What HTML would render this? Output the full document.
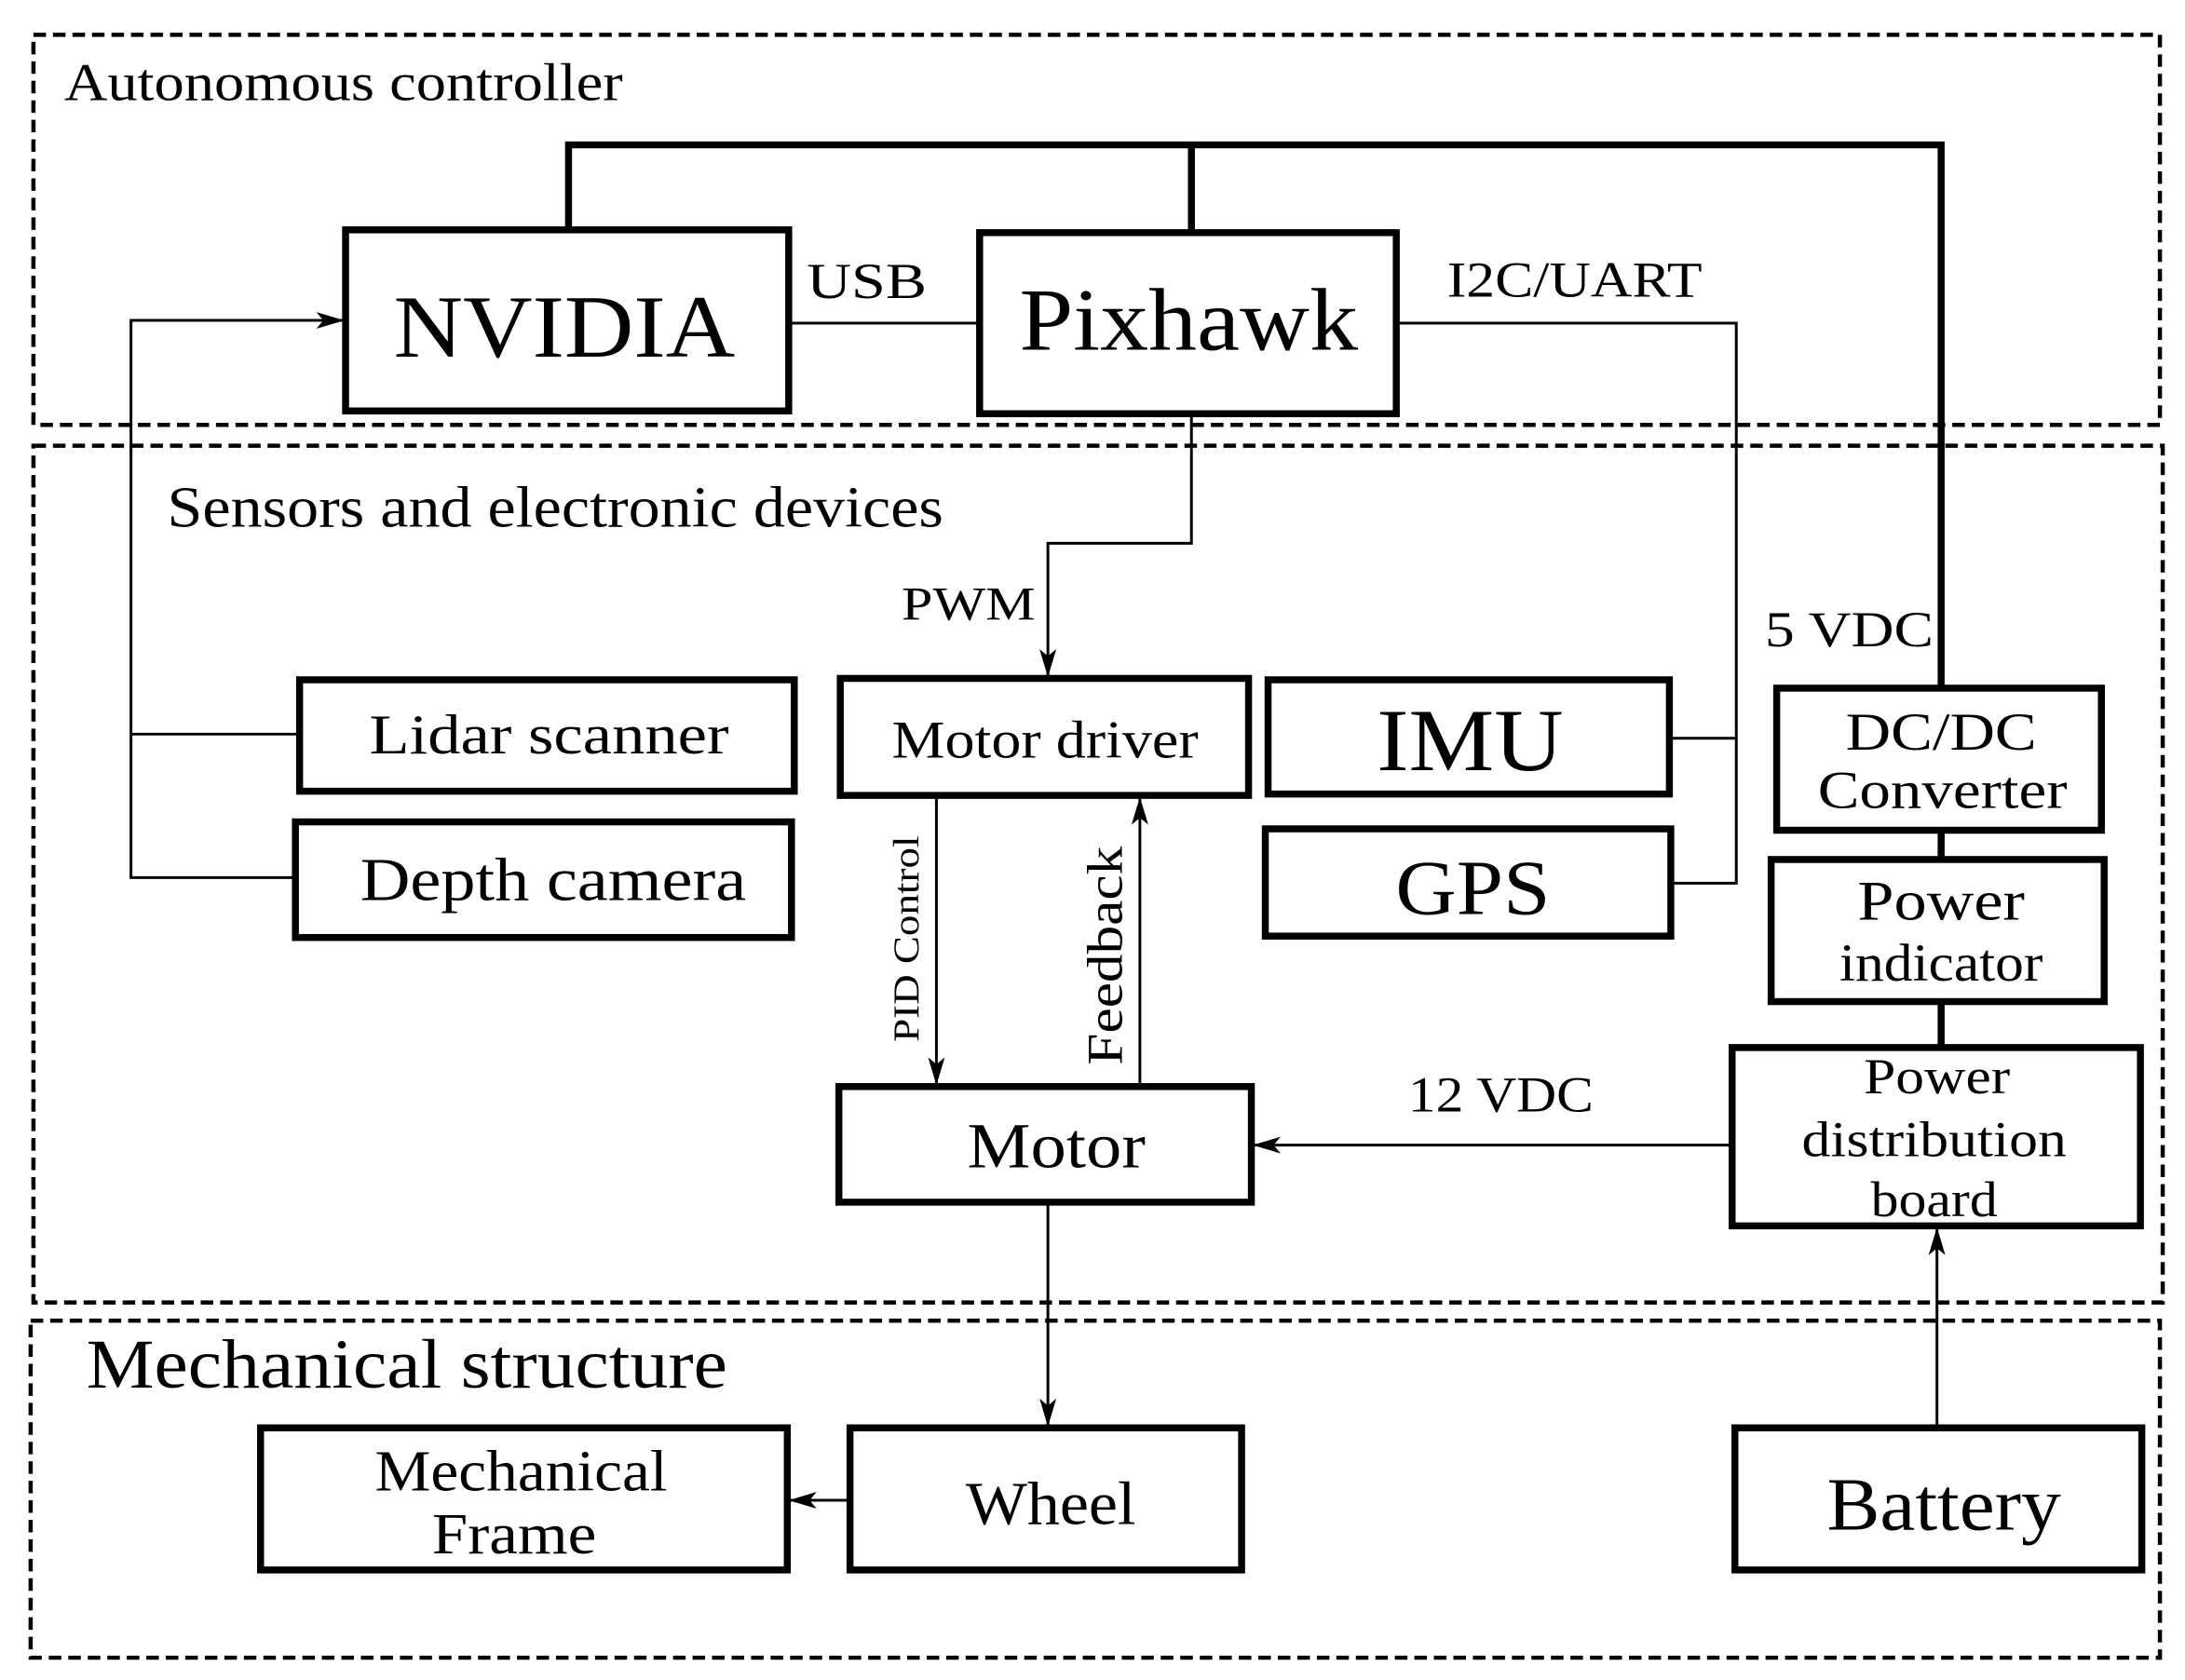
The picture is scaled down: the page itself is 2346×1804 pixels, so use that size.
<!DOCTYPE html>
<html><head><meta charset="utf-8"><style>html,body{margin:0;padding:0;background:#fff}svg{display:block}</style></head>
<body>
<svg width="2346" height="1804" viewBox="0 0 1568 1206" preserveAspectRatio="none" xmlns="http://www.w3.org/2000/svg" font-family="'Liberation Serif', serif">
<defs><marker id="b" markerWidth="20" markerHeight="12" refX="19" refY="6" orient="auto" markerUnits="userSpaceOnUse"><path d="M0,0 L20,6 L0,12 L5,6 Z" fill="#000"/></marker></defs>
<g fill="none" stroke="#000" stroke-width="3" stroke-dasharray="9,5">
<rect x="24" y="25" width="1526" height="280"/>
<rect x="24" y="320" width="1528" height="615"/>
<rect x="22" y="948" width="1528" height="242"/>
</g>
<g fill="none" stroke="#000" stroke-width="5">
<rect x="248" y="165" width="318" height="130"/>
<rect x="703" y="167" width="299" height="130"/>
<rect x="215" y="488" width="355" height="80"/>
<rect x="212" y="590" width="356" height="83"/>
<rect x="603" y="487" width="293" height="84"/>
<rect x="910" y="488" width="288" height="82"/>
<rect x="908" y="595" width="291" height="77"/>
<rect x="1275" y="494" width="233" height="102"/>
<rect x="1271" y="617" width="239" height="102"/>
<rect x="1243" y="752" width="293" height="128"/>
<rect x="602" y="780" width="296" height="83"/>
<rect x="610" y="1025" width="281" height="102"/>
<rect x="187" y="1025" width="378" height="102"/>
<rect x="1245" y="1025" width="292" height="102"/>
<polyline points="408,165 408,104 1393,104 1393,494"/>
<line x1="855" y1="104" x2="855" y2="167"/>
<line x1="1393" y1="596" x2="1393" y2="617"/>
<line x1="1393" y1="719" x2="1393" y2="752"/>
</g>
<g fill="none" stroke="#000" stroke-width="2">
<line x1="566" y1="232" x2="703" y2="232"/>
<polyline points="1002,232 1246,232 1246,634 1199,634"/>
<line x1="1198" y1="530" x2="1246" y2="530"/>
<polyline points="212,630 94,630 94,230 246,230" marker-end="url(#b)"/>
<line x1="94" y1="527" x2="215" y2="527"/>
<polyline points="855,297 855,390 752,390 752,485" marker-end="url(#b)"/>
<line x1="672" y1="571" x2="672" y2="778" marker-end="url(#b)"/>
<line x1="818" y1="780" x2="818" y2="573" marker-end="url(#b)"/>
<line x1="1243" y1="822" x2="900" y2="822" marker-end="url(#b)"/>
<line x1="752" y1="863" x2="752" y2="1023" marker-end="url(#b)"/>
<line x1="610" y1="1077" x2="567" y2="1077" marker-end="url(#b)"/>
<line x1="1390" y1="1025" x2="1390" y2="882" marker-end="url(#b)"/>
</g>
<g fill="#000" text-anchor="middle" lengthAdjust="spacingAndGlyphs">
<text x="405" y="256" font-size="64" textLength="245" lengthAdjust="spacingAndGlyphs">NVIDIA</text>
<text x="853" y="251" font-size="64" textLength="243" lengthAdjust="spacingAndGlyphs">Pixhawk</text>
<text x="622" y="214" font-size="36" textLength="86" lengthAdjust="spacingAndGlyphs">USB</text>
<text x="1130" y="213" font-size="36" textLength="183" lengthAdjust="spacingAndGlyphs">I2C/UART</text>
<text x="695" y="445" font-size="34" textLength="96" lengthAdjust="spacingAndGlyphs">PWM</text>
<text x="394" y="541" font-size="40" textLength="258" lengthAdjust="spacingAndGlyphs">Lidar scanner</text>
<text x="397" y="646" font-size="44" textLength="277" lengthAdjust="spacingAndGlyphs">Depth camera</text>
<text x="750" y="544" font-size="38" textLength="220" lengthAdjust="spacingAndGlyphs">Motor driver</text>
<text x="1055" y="553" font-size="64" textLength="134" lengthAdjust="spacingAndGlyphs">IMU</text>
<text x="1057" y="656" font-size="56" textLength="111" lengthAdjust="spacingAndGlyphs">GPS</text>
<text x="1327" y="464" font-size="36" textLength="121" lengthAdjust="spacingAndGlyphs">5 VDC</text>
<text x="1393" y="538" font-size="38" textLength="137" lengthAdjust="spacingAndGlyphs">DC/DC</text>
<text x="1394" y="580" font-size="38" textLength="179" lengthAdjust="spacingAndGlyphs">Converter</text>
<text x="1393" y="660" font-size="40" textLength="120" lengthAdjust="spacingAndGlyphs">Power</text>
<text x="1393" y="704" font-size="38" textLength="146" lengthAdjust="spacingAndGlyphs">indicator</text>
<text x="1390" y="785" font-size="36" textLength="105" lengthAdjust="spacingAndGlyphs">Power</text>
<text x="1388" y="830" font-size="36" textLength="190" lengthAdjust="spacingAndGlyphs">distribution</text>
<text x="1388" y="873" font-size="36" textLength="91" lengthAdjust="spacingAndGlyphs">board</text>
<text x="1077" y="798" font-size="36" textLength="133" lengthAdjust="spacingAndGlyphs">12 VDC</text>
<text x="758" y="838" font-size="46" textLength="128" lengthAdjust="spacingAndGlyphs">Motor</text>
<text x="754" y="1094" font-size="44" textLength="122" lengthAdjust="spacingAndGlyphs">Wheel</text>
<text x="374" y="1070" font-size="42" textLength="210" lengthAdjust="spacingAndGlyphs">Mechanical</text>
<text x="369" y="1115" font-size="42" textLength="118" lengthAdjust="spacingAndGlyphs">Frame</text>
<text x="1395" y="1098" font-size="54" textLength="168" lengthAdjust="spacingAndGlyphs">Battery</text>
<text transform="translate(659,674) rotate(-90)" font-size="26" textLength="148" lengthAdjust="spacingAndGlyphs">PID Control</text>
<text transform="translate(805,686) rotate(-90)" font-size="36" textLength="157" lengthAdjust="spacingAndGlyphs">Feedback</text>
</g>
<g fill="#000">
<text x="46" y="72" font-size="38" textLength="401" lengthAdjust="spacingAndGlyphs">Autonomous controller</text>
<text x="120" y="378" font-size="42" textLength="557" lengthAdjust="spacingAndGlyphs">Sensors and electronic devices</text>
<text x="62" y="996" font-size="50" textLength="460" lengthAdjust="spacingAndGlyphs">Mechanical structure</text>
</g>
</svg>
</body></html>
